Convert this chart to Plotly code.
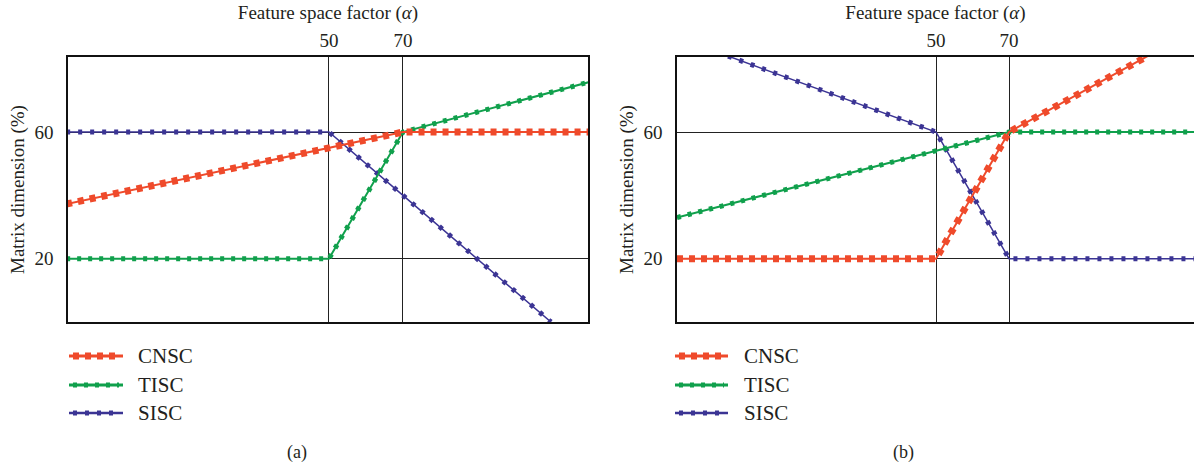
import plotly.graph_objects as go

# ---------------- data ----------------
series_names = ["CNSC", "TISC", "SISC"]
colors = {"CNSC": "#EF4A2B", "TISC": "#10A04C", "SISC": "#3B3494"}

# panel (a) breakpoints
a_cnsc_x = [-21, 70, 121]
a_cnsc_y = [37.25, 60, 60]
a_tisc_x = [-21, 50, 70, 121]
a_tisc_y = [20, 20, 60, 76]
a_sisc_x = [-21, 50, 70, 110]
a_sisc_y = [60, 60, 40, 0]

# panel (b) breakpoints
b_cnsc_x = [-21, 50, 70, 108]
b_cnsc_y = [20, 20, 60, 84]
b_tisc_x = [-21, 70, 122]
b_tisc_y = [33, 60, 60]
b_sisc_x = [-7, 50, 70, 122]
b_sisc_y = [84, 60, 20, 20]

x_ticks = [50, 70]
y_ticks = [20, 60]

# ---------------- styles ----------------
FONT = "Liberation Serif"
TXT = "#231F20"
W, H = 1194, 470
bead = {
    "CNSC": dict(width=7, dash="6px,6px", base=2),
    "TISC": dict(width=5, dash="4px,7px", base=2),
    "SISC": dict(width=5, dash="4px,8px", base=1.5),
}

fig = go.Figure()

panels = [
    ("x", "y", {"CNSC": (a_cnsc_x, a_cnsc_y), "TISC": (a_tisc_x, a_tisc_y), "SISC": (a_sisc_x, a_sisc_y)}),
    ("x2", "y2", {"CNSC": (b_cnsc_x, b_cnsc_y), "TISC": (b_tisc_x, b_tisc_y), "SISC": (b_sisc_x, b_sisc_y)}),
]
for xa, ya, data in panels:
    for name in ["SISC", "TISC", "CNSC"]:
        xs, ys = data[name]
        st = bead[name]
        fig.add_trace(go.Scatter(x=xs, y=ys, mode="lines", xaxis=xa, yaxis=ya, showlegend=False,
                                 line=dict(color=colors[name], width=st["base"])))
        fig.add_trace(go.Scatter(x=xs, y=ys, mode="lines", xaxis=xa, yaxis=ya, showlegend=False,
                                 line=dict(color=colors[name], width=st["width"], dash=st["dash"])))

def px(x):
    return x / W

def py(y):
    return (H - y) / H

y_dom = [py(322), py(57)]
common_x = dict(side="top", tickvals=x_ticks, ticktext=[str(v) for v in x_ticks], showgrid=True,
                gridcolor="#222", gridwidth=1.3, zeroline=False, showline=True, linecolor="#111",
                linewidth=1.5, mirror=True, ticks="", ticklabelstandoff=1,
                tickfont=dict(family=FONT, size=19, color=TXT),
                title=dict(text="Feature space factor (<i>α</i>)", font=dict(family=FONT, size=19, color=TXT),
                           standoff=5))
common_y = dict(tickvals=y_ticks, showgrid=True, gridcolor="#222", gridwidth=1.3, zeroline=False,
                showline=True, linecolor="#111", linewidth=1.5, ticks="", ticklabelstandoff=9,
                tickfont=dict(family=FONT, size=19, color=TXT), range=[0, 83.7], domain=y_dom)

fig.update_layout(
    width=W, height=H, margin=dict(l=0, r=0, t=0, b=0),
    paper_bgcolor="white", plot_bgcolor="white", showlegend=False,
    xaxis=dict(common_x, domain=[px(68), px(588)], range=[-20.5, 120], anchor="y"),
    yaxis=dict(common_y, mirror=True, anchor="x"),
    xaxis2=dict(common_x, domain=[px(677), 1.0], range=[-21, 120.7], anchor="y2"),
    yaxis2=dict(common_y, mirror=False, anchor="x2"),
)

# y titles and panel labels
annotations = []
for xc in [18, 627]:
    annotations.append(dict(x=px(xc), y=py(190), xref="paper", yref="paper", text="Matrix dimension (%)",
                            textangle=-90, showarrow=False, xanchor="center", yanchor="middle",
                            font=dict(family=FONT, size=19, color=TXT)))
for xc, lab in [(297, "(a)"), (903, "(b)")]:
    annotations.append(dict(x=px(xc), y=py(452), xref="paper", yref="paper", text=lab, showarrow=False,
                            xanchor="center", yanchor="middle",
                            font=dict(family=FONT, size=18, color=TXT)))

# legends (shapes + text)
shapes = []
leg_rows = [356, 385, 413]
for x0, x1, xt in [(69, 123, 136), (675, 728, 742)]:
    for name, yr in zip(series_names, leg_rows):
        st = bead[name]
        shapes.append(dict(type="line", xref="paper", yref="paper", x0=px(x0), x1=px(x1), y0=py(yr), y1=py(yr),
                           line=dict(color=colors[name], width=st["base"] + 1)))
        shapes.append(dict(type="line", xref="paper", yref="paper", x0=px(x0 + 4), x1=px(x1 - 4), y0=py(yr), y1=py(yr),
                           line=dict(color=colors[name], width=st["width"], dash=st["dash"])))
        annotations.append(dict(x=px(xt), y=py(yr), xref="paper", yref="paper", text=name, showarrow=False,
                                xanchor="left", yanchor="middle", font=dict(family=FONT, size=21, color=TXT)))

fig.update_layout(annotations=annotations, shapes=shapes)
fig.write_html("out.html", config={"displayModeBar": False},
               post_script="document.body.style.margin='0';document.body.style.padding='0';")
